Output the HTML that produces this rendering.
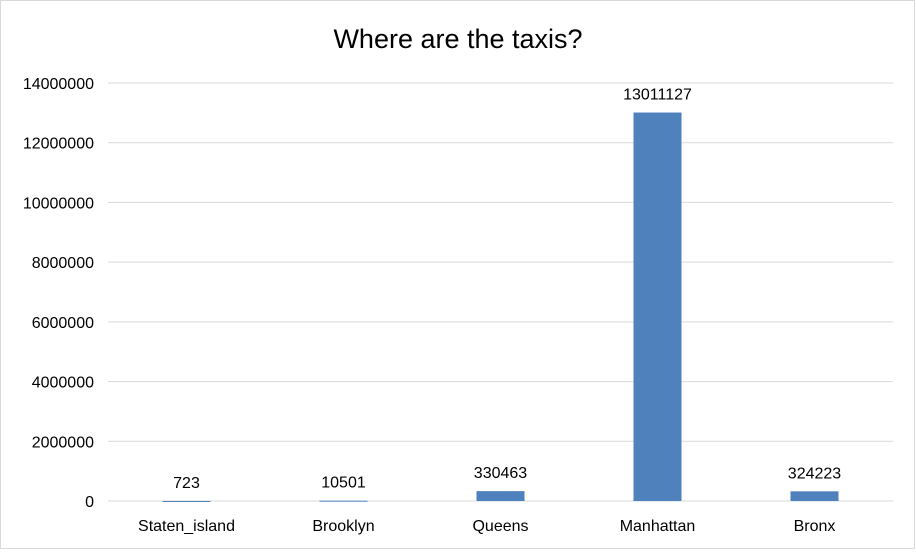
<!DOCTYPE html>
<html><head><meta charset="utf-8"><style>
body{margin:0;background:#fff;}
#c{position:relative;width:916px;height:550px;font-family:"Liberation Sans",sans-serif;}
</style></head><body>
<div id="c">
<svg width="916" height="550">
<rect x="0.5" y="0.5" width="914" height="548" fill="#fff" stroke="#d9d9d9"/>
<text x="458" y="48" text-anchor="middle" font-size="27" fill="#000">Where are the taxis?</text>
<g id="grid"></g><g id="bars"></g><g id="labels"></g>
</svg></div>
<script>
const categories=["Staten_island","Brooklyn","Queens","Manhattan","Bronx"];
const values=[723,10501,330463,13011127,324223];
const ticks=[0,2000000,4000000,6000000,8000000,10000000,12000000,14000000];
const ns="http://www.w3.org/2000/svg";
const x0=108,x1=893,y0=501,y1=83,maxV=14000000;
const y=v=>y0-(v/maxV)*(y0-y1);
const band=(x1-x0)/categories.length;
const xc=i=>x0+band*(i+0.5);
function mk(t,a,p){const e=document.createElementNS(ns,t);for(const k in a)e.setAttribute(k,a[k]);p.appendChild(e);return e;}
const g=document.getElementById('grid'),b=document.getElementById('bars'),l=document.getElementById('labels');
ticks.forEach(t=>{
 const ln=mk('line',{x1:x0,x2:x1,y1:y(t),y2:y(t),stroke:t===0?'#d9d9d9':'#d9d9d9','stroke-width':1},g);
 
 
 const tx=mk('text',{x:94,y:y(t)+6,'text-anchor':'end','font-size':16,fill:'#000'},g);
 tx.textContent=t;
 
 
});
categories.forEach((c,i)=>{
 const v=values[i],bw=48;
 const r=mk('rect',{x:xc(i)-bw/2,y:y(v),width:bw,height:Math.max(y0-y(v),1),fill:'#4f81bd'},b);
 
 
 const vl=mk('text',{x:xc(i),y:y(v)-13,'text-anchor':'middle','font-size':16,fill:'#000'},l);
 vl.textContent=v;
 
 
 const cl=mk('text',{x:xc(i),y:531,'text-anchor':'middle','font-size':16,fill:'#000'},l);
 cl.textContent=c;
 
 
});
</script>
</body></html>
